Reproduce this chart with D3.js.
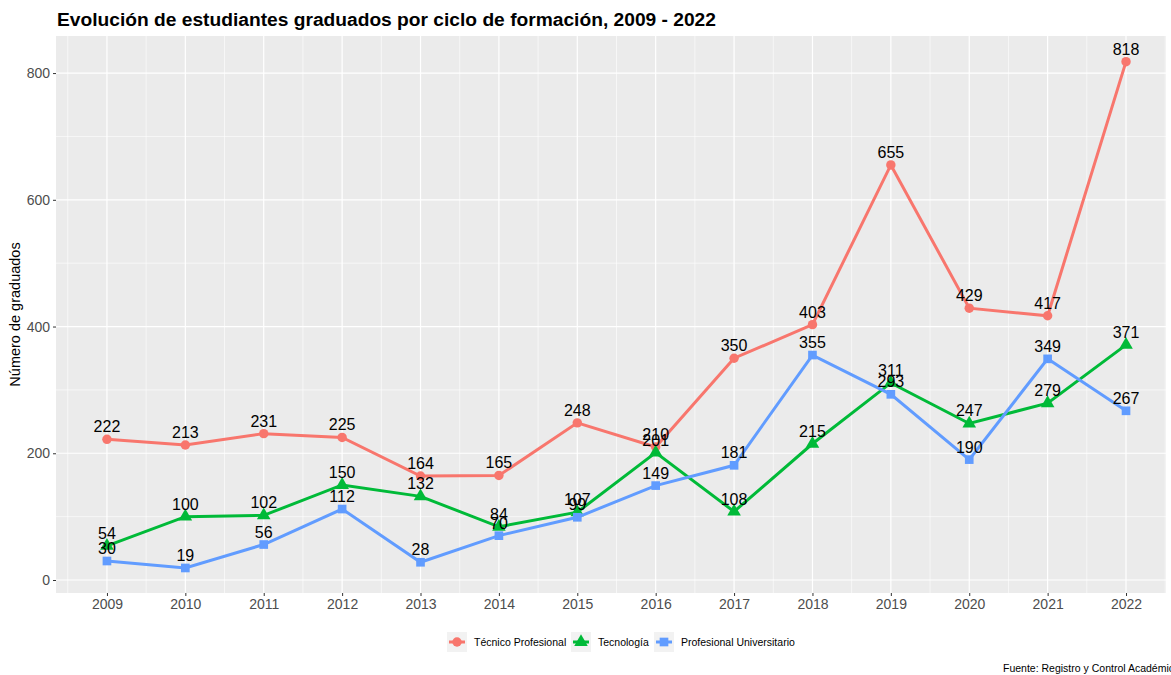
<!DOCTYPE html>
<html>
<head>
<meta charset="utf-8">
<script src="https://cdn.jsdelivr.net/npm/d3@7"></script>
<style>
  body { margin: 0; background: #fff; }
  svg { display: block; font-family: "Liberation Sans", Arial, sans-serif; }
</style>
</head>
<body>
<script>
// data
var years = [2009, 2010, 2011, 2012, 2013, 2014, 2015, 2016, 2017, 2018, 2019, 2020, 2021, 2022];
var tecnicoProfesional = [222, 213, 231, 225, 164, 165, 248, 210, 350, 403, 655, 429, 417, 818];
var tecnologia = [54, 100, 102, 150, 132, 84, 107, 201, 108, 215, 311, 247, 279, 371];
var profesionalUniversitario = [30, 19, 56, 112, 28, 70, 99, 149, 181, 355, 293, 190, 349, 267];
var seriesNames = ["Técnico Profesional", "Tecnología", "Profesional Universitario"];
var yTicks = [0, 200, 400, 600, 800];

(function(){
    var width = 1171, height = 675;
    var colors = ["#F8766D", "#00BA38", "#619CFF"];
    var shapes = [d3.symbolCircle, d3.symbolTriangle, d3.symbolSquare];
    var shapeSize = [70, 80, 75];

    //panel box
    var left = 56, right = 1166, top = 36, bottom = 593;

    var svg = d3.select("body").append("svg")
        .attr("width", width)
        .attr("height", height);

    var x = d3.scaleLinear()
        .domain([2008.35, 2022.51])
        .range([left, right]);

    var y = d3.scaleLinear()
        .domain([-20.5, 858.5])
        .range([bottom, top]);

    //panel background
    svg.append("rect")
        .attr("x", left).attr("y", top)
        .attr("width", right - left).attr("height", bottom - top)
        .attr("fill", "#EBEBEB");

    //minor grid
    var minorX = years.map(function(d){ return d - 0.5; }).concat([2022.5]);
    var minorY = [100, 300, 500, 700];
    svg.selectAll(".minorX").data(minorX).enter().append("line")
        .attr("x1", x).attr("x2", x).attr("y1", top).attr("y2", bottom)
        .attr("stroke", "#fff").attr("stroke-width", 0.6);
    svg.selectAll(".minorY").data(minorY).enter().append("line")
        .attr("y1", y).attr("y2", y).attr("x1", left).attr("x2", right)
        .attr("stroke", "#fff").attr("stroke-width", 0.6);

    //major grid
    svg.selectAll(".majorX").data(years).enter().append("line")
        .attr("x1", x).attr("x2", x).attr("y1", top).attr("y2", bottom)
        .attr("stroke", "#fff").attr("stroke-width", 1.2);
    svg.selectAll(".majorY").data(yTicks).enter().append("line")
        .attr("y1", y).attr("y2", y).attr("x1", left).attr("x2", right)
        .attr("stroke", "#fff").attr("stroke-width", 1.2);

    //axes
    var xAxis = svg.append("g")
        .attr("transform", "translate(0," + bottom + ")")
        .call(d3.axisBottom(x).tickValues(years).tickFormat(d3.format("d")).tickSize(3).tickPadding(3));
    var yAxis = svg.append("g")
        .attr("transform", "translate(" + left + ",0)")
        .call(d3.axisLeft(y).tickValues(yTicks).tickSize(3).tickPadding(3));
    [xAxis, yAxis].forEach(function(g){
        g.select(".domain").remove();
        g.selectAll("line").attr("stroke", "#333");
        g.selectAll("text").attr("fill", "#4D4D4D").style("font-size", "14px");
    });

    //series
    var data = [tecnicoProfesional, tecnologia, profesionalUniversitario];
    var line = d3.line()
        .x(function(d, i){ return x(years[i]); })
        .y(function(d){ return y(d); });

    data.forEach(function(vals, s){
        svg.append("path")
            .datum(vals)
            .attr("d", line)
            .attr("fill", "none")
            .attr("stroke", colors[s])
            .attr("stroke-width", 3);
        svg.selectAll(".pt" + s).data(vals).enter().append("path")
            .attr("d", d3.symbol().type(shapes[s]).size(shapeSize[s]))
            .attr("transform", function(d, i){
                return "translate(" + x(years[i]) + "," + y(d) + ")";
            })
            .attr("fill", colors[s]);
    });

    //value labels
    data.forEach(function(vals, s){
        svg.selectAll(".lab" + s).data(vals).enter().append("text")
            .attr("x", function(d, i){ return x(years[i]); })
            .attr("y", function(d){ return y(d) - 7; })
            .attr("text-anchor", "middle")
            .style("font-size", "16px")
            .attr("fill", "#000")
            .text(function(d){ return d; });
    });

    //title
    svg.append("text")
        .attr("x", 57).attr("y", 26)
        .style("font-size", "19.2px")
        .style("font-weight", "bold")
        .text("Evolución de estudiantes graduados por ciclo de formación, 2009 - 2022");

    //y axis title
    svg.append("text")
        .attr("transform", "translate(20," + ((top + bottom) / 2) + ") rotate(-90)")
        .attr("text-anchor", "middle")
        .style("font-size", "14.5px")
        .text("Número de graduados");

    //legend
    var legendX = [447, 571, 654];
    var legend = svg.selectAll(".legend").data(seriesNames).enter().append("g")
        .attr("transform", function(d, i){ return "translate(" + legendX[i] + ",632)"; });
    legend.append("rect")
        .attr("width", 20).attr("height", 20)
        .attr("fill", "#F2F2F2");
    legend.append("line")
        .attr("x1", 2).attr("x2", 18).attr("y1", 10).attr("y2", 10)
        .attr("stroke", function(d, i){ return colors[i]; })
        .attr("stroke-width", 3);
    legend.append("path")
        .attr("d", function(d, i){ return d3.symbol().type(shapes[i]).size(shapeSize[i])(); })
        .attr("transform", "translate(10,10)")
        .attr("fill", function(d, i){ return colors[i]; });
    legend.append("text")
        .attr("x", 27).attr("y", 14)
        .style("font-size", "10.5px")
        .text(function(d){ return d; });

    //caption
    svg.append("text")
        .attr("x", 1003).attr("y", 672)
        .style("font-size", "10.5px")
        .text("Fuente: Registro y Control Académico");
})();
</script>
</body>
</html>
